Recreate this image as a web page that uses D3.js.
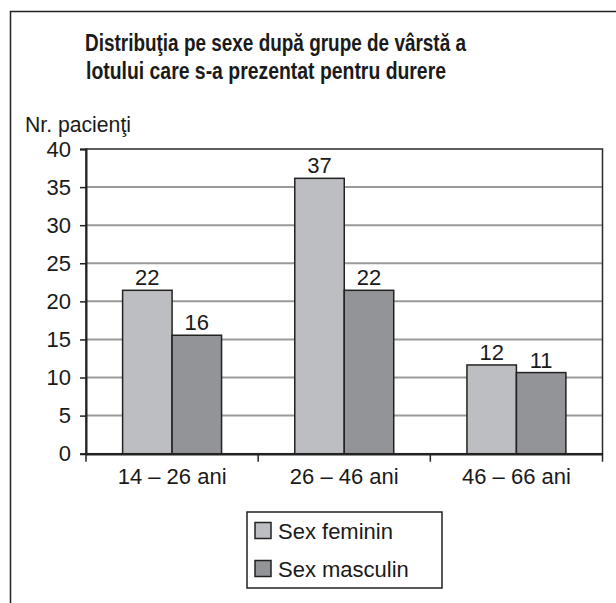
<!DOCTYPE html>
<html>
<head>
<meta charset="utf-8">
<script src="https://cdnjs.cloudflare.com/ajax/libs/d3/7.8.5/d3.min.js"></script>
<style>
  body { margin: 0; background: #fff; }
  svg { display: block; font-family: 'Liberation Sans', Arial, sans-serif; }
</style>
</head>
<body>
<div id="chart"></div>
<script>
'use strict'

var categories = ['14 – 26 ani', '26 – 46 ani', '46 – 66 ani'];
var seriesNames = ['Sex feminin', 'Sex masculin'];
// bar heights as drawn in the picture
var feminin = [21.45, 36.15, 11.65];
var masculin = [15.55, 21.45, 10.65];
// value labels as printed above the bars
var femininLabels = ['22', '37', '12'];
var masculinLabels = ['16', '22', '11'];
var yTicks = [0, 5, 10, 15, 20, 25, 30, 35, 40];
var titleLines = ['Distribuţia pe sexe după grupe de vârstă a', 'lotului care s-a prezentat pentru durere'];

(function() {
  var width = 616, height = 603;
  var plot = { left: 86, right: 602.5, top: 149, bottom: 453.7 };
  var colors = ['#bdbec2', '#939498'];
  var ink = '#1a1a1a';
  var fs = 22;

  var svg = d3.select('#chart').append('svg')
    .attr('width', width)
    .attr('height', height);

  // outer frame (runs off the right and bottom of the picture)
  svg.append('rect')
    .attr('x', 10.5).attr('y', 11.5)
    .attr('width', 700).attr('height', 700)
    .attr('fill', 'none')
    .attr('stroke', '#222')
    .attr('stroke-width', 1.5);

  // title
  svg.append('text')
    .attr('x', 85).attr('y', 51)
    .attr('textLength', 381).attr('lengthAdjust', 'spacingAndGlyphs')
    .attr('font-size', 23).attr('font-weight', 'bold').attr('fill', ink)
    .text(titleLines[0]);
  svg.append('text')
    .attr('x', 86).attr('y', 79)
    .attr('textLength', 360).attr('lengthAdjust', 'spacingAndGlyphs')
    .attr('font-size', 23).attr('font-weight', 'bold').attr('fill', ink)
    .text(titleLines[1]);

  svg.append('text')
    .attr('x', 25).attr('y', 131.5)
    .attr('textLength', 106).attr('lengthAdjust', 'spacingAndGlyphs')
    .attr('font-size', fs).attr('fill', ink)
    .text('Nr. pacienţi');

  var y = d3.scaleLinear()
    .domain([0, 40])
    .range([plot.bottom, plot.top]);

  var x0 = d3.scaleBand()
    .domain(categories)
    .range([plot.left, plot.right])
    .padding(0);

  var x1 = d3.scaleBand()
    .domain(seriesNames)
    .range([0, x0.bandwidth()])
    .paddingInner(0)
    .paddingOuter(0.74);

  // gridlines
  svg.append('g')
    .selectAll('line')
    .data(yTicks.filter(function(d) { return d > 0 && d < 40; }))
    .enter()
    .append('line')
    .attr('x1', plot.left).attr('x2', plot.right)
    .attr('y1', function(d) { return y(d); })
    .attr('y2', function(d) { return y(d); })
    .attr('stroke', '#9a9a9a')
    .attr('stroke-width', 2);

  // plot area border
  svg.append('rect')
    .attr('x', plot.left).attr('y', plot.top)
    .attr('width', plot.right - plot.left)
    .attr('height', plot.bottom - plot.top)
    .attr('fill', 'none')
    .attr('stroke', '#2a2a2a')
    .attr('stroke-width', 1.5);

  // bars
  var rows = categories.map(function(c, i) {
    return [
      { cat: c, s: seriesNames[0], v: feminin[i], label: femininLabels[i], color: colors[0] },
      { cat: c, s: seriesNames[1], v: masculin[i], label: masculinLabels[i], color: colors[1] }
    ];
  });

  var groups = svg.append('g')
    .selectAll('g')
    .data(rows)
    .enter()
    .append('g')
    .attr('transform', function(d) { return 'translate(' + x0(d[0].cat) + ',0)'; });

  groups.selectAll('rect')
    .data(function(d) { return d; })
    .enter()
    .append('rect')
    .attr('x', function(d) { return x1(d.s); })
    .attr('y', function(d) { return y(d.v); })
    .attr('width', x1.bandwidth())
    .attr('height', function(d) { return y(0) - y(d.v); })
    .attr('fill', function(d) { return d.color; })
    .attr('stroke', '#222')
    .attr('stroke-width', 1.5);

  groups.selectAll('text')
    .data(function(d) { return d; })
    .enter()
    .append('text')
    .attr('x', function(d) { return x1(d.s) + x1.bandwidth() / 2; })
    .attr('y', function(d) { return y(d.v) - 5; })
    .attr('text-anchor', 'middle')
    .attr('font-size', fs).attr('fill', ink)
    .text(function(d) { return d.label; });

  // y axis
  var yAxis = d3.axisLeft(y)
    .tickValues(yTicks)
    .tickSize(6)
    .tickPadding(9);
  var yg = svg.append('g')
    .attr('transform', 'translate(' + plot.left + ',0)')
    .call(yAxis);
  yg.select('.domain').attr('stroke', '#222').attr('stroke-width', 2);
  yg.selectAll('.tick line').attr('stroke', '#222').attr('stroke-width', 1.5);
  yg.selectAll('.tick text')
    .attr('font-size', fs).attr('font-family', 'Liberation Sans, Arial, sans-serif')
    .attr('fill', ink);

  // x axis with ticks on category boundaries
  var xAxis = d3.axisBottom(x0).tickSize(0).tickPadding(12);
  var xg = svg.append('g')
    .attr('transform', 'translate(0,' + plot.bottom + ')')
    .call(xAxis);
  xg.select('.domain').attr('stroke', '#222').attr('stroke-width', 2.5);
  xg.selectAll('.tick text')
    .attr('font-size', fs).attr('font-family', 'Liberation Sans, Arial, sans-serif')
    .attr('fill', ink)
    .attr('dy', '0.85em');

  var bounds = categories.map(function(c) { return x0(c); }).concat([plot.right]);
  xg.selectAll('line.bound')
    .data(bounds)
    .enter()
    .append('line')
    .attr('class', 'bound')
    .attr('x1', function(d) { return d; }).attr('x2', function(d) { return d; })
    .attr('y1', 0).attr('y2', 8)
    .attr('stroke', '#222').attr('stroke-width', 1.5);

  // legend
  var legend = svg.append('g');
  legend.append('rect')
    .attr('x', 247).attr('y', 512)
    .attr('width', 195).attr('height', 76)
    .attr('fill', '#fff')
    .attr('stroke', '#222').attr('stroke-width', 1.5);

  var items = legend.selectAll('g.item')
    .data(seriesNames)
    .enter()
    .append('g')
    .attr('class', 'item')
    .attr('transform', function(d, i) { return 'translate(255,' + (522.5 + i * 38) + ')'; });
  items.append('rect')
    .attr('width', 16).attr('height', 16)
    .attr('fill', function(d, i) { return colors[i]; })
    .attr('stroke', '#222').attr('stroke-width', 1.5);
  items.append('text')
    .attr('x', 23).attr('y', 16.5)
    .attr('font-size', fs).attr('fill', ink)
    .text(function(d) { return d; });
})();
</script>
</body>
</html>
